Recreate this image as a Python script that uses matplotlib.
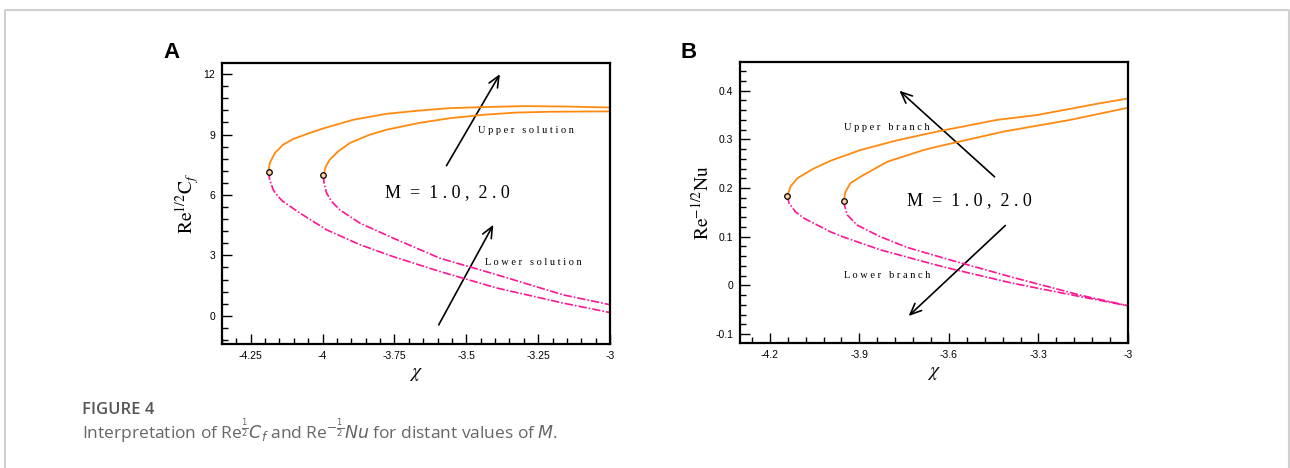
import matplotlib
matplotlib.use("Agg")
import matplotlib.pyplot as plt
from matplotlib.lines import Line2D
from matplotlib.patches import FancyArrowPatch
from matplotlib.ticker import FixedLocator, MultipleLocator

plt.rcParams["mathtext.fontset"] = "stix"

# panel A: skin friction, M = 1.0 (outer) and M = 2.0 (inner)
chi_a_up1 = [-4.188, -4.184, -4.166, -4.138, -4.103, -4.050, -3.998, -3.894, -3.777, -3.662, -3.557, -3.441, -3.302, -3.151, -3.0]
cf_up1 = [7.16, 7.58, 8.08, 8.49, 8.77, 9.05, 9.30, 9.73, 10.03, 10.19, 10.31, 10.36, 10.41, 10.39, 10.34]
chi_a_up2 = [-3.997, -3.989, -3.975, -3.946, -3.905, -3.836, -3.777, -3.662, -3.557, -3.441, -3.325, -3.209, -3.0]
cf_up2 = [6.97, 7.41, 7.75, 8.16, 8.58, 8.99, 9.24, 9.58, 9.81, 9.98, 10.09, 10.13, 10.15]
chi_a_lo1 = [-4.188, -4.184, -4.172, -4.155, -4.138, -4.079, -3.986, -3.870, -3.755, -3.592, -3.394, -3.163, -3.0]
cf_lo1 = [7.16, 6.75, 6.26, 5.92, 5.68, 5.10, 4.27, 3.53, 2.94, 2.20, 1.38, 0.63, 0.16]
chi_a_lo2 = [-3.997, -3.995, -3.986, -3.969, -3.940, -3.870, -3.755, -3.592, -3.394, -3.163, -3.0]
cf_lo2 = [6.97, 6.59, 6.09, 5.68, 5.26, 4.60, 3.86, 2.86, 2.04, 1.04, 0.55]
turn_a_chi = [-4.188, -3.997]
turn_a_cf = [7.16, 6.97]

# panel B: Nusselt number
chi_b_up1 = [-4.141, -4.131, -4.108, -4.081, -4.053, -3.997, -3.897, -3.774, -3.640, -3.439, -3.305, -3.105, -3.0]
nu_up1 = [0.184, 0.203, 0.220, 0.230, 0.240, 0.256, 0.278, 0.298, 0.316, 0.340, 0.350, 0.373, 0.384]
chi_b_up2 = [-3.952, -3.947, -3.930, -3.897, -3.807, -3.685, -3.640, -3.417, -3.194, -3.0]
nu_up2 = [0.173, 0.192, 0.210, 0.223, 0.254, 0.278, 0.285, 0.316, 0.340, 0.365]
chi_b_lo1 = [-4.141, -4.136, -4.114, -4.086, -3.997, -3.952, -3.830, -3.662, -3.606, -3.384, -3.161, -3.0]
nu_lo1 = [0.184, 0.169, 0.151, 0.138, 0.110, 0.099, 0.073, 0.045, 0.036, 0.004, -0.023, -0.042]
chi_b_lo2 = [-3.952, -3.950, -3.941, -3.908, -3.830, -3.740, -3.662, -3.606, -3.384, -3.161, -3.0]
nu_lo2 = [0.173, 0.165, 0.145, 0.124, 0.100, 0.078, 0.064, 0.054, 0.016, -0.020, -0.042]
turn_b_chi = [-4.141, -3.952]
turn_b_nu = [0.184, 0.173]

xt_a = [-4.25, -4.0, -3.75, -3.5, -3.25, -3.0]
xl_a = ["-4.25", "-4", "-3.75", "-3.5", "-3.25", "-3"]
yt_a = [0, 3, 6, 9, 12]
yl_a = ["0", "3", "6", "9", "12"]
xt_b = [-4.2, -3.9, -3.6, -3.3, -3.0]
xl_b = ["-4.2", "-3.9", "-3.6", "-3.3", "-3"]
yt_b = [-0.1, 0.0, 0.1, 0.2, 0.3, 0.4]
yl_b = ["-0.1", "0", "0.1", "0.2", "0.3", "0.4"]

orange = "#ff8a0f"
pink = "#ff1493"
dashdot = (0, (5, 1.2, 1, 1.2))
serif = ["Liberation Serif", "DejaVu Serif"]
sans = ["Liberation Sans", "DejaVu Sans"]

fig = plt.figure(figsize=(12.9, 4.68), dpi=100)
ax_a = fig.add_axes([222 / 1290, 124 / 468, 388 / 1290, 281 / 468])
ax_b = fig.add_axes([740 / 1290, 125 / 468, 388 / 1290, 281 / 468])


def style(ax, xt, xl, yt, yl, xminor, yminor):
    ax.xaxis.set_major_locator(FixedLocator(xt))
    ax.set_xticklabels(xl, family=sans)
    ax.yaxis.set_major_locator(FixedLocator(yt))
    ax.set_yticklabels(yl, family=sans)
    ax.xaxis.set_minor_locator(MultipleLocator(xminor))
    ax.yaxis.set_minor_locator(MultipleLocator(yminor))
    ax.tick_params(which="both", direction="in", top=False, right=False,
                   labelsize=7.5, width=1.0, pad=5)
    ax.tick_params(which="major", length=7)
    ax.tick_params(which="minor", length=4)
    for s in ax.spines.values():
        s.set_linewidth(1.6)


def arrow(ax, tail, head):
    ax.add_patch(FancyArrowPatch(tail, head, arrowstyle="->,head_length=8,head_width=3.5",
                                 color="black", lw=1.2, shrinkA=0, shrinkB=0))


# panel A
ax_a.plot(chi_a_up1, cf_up1, color=orange, lw=1.3)
ax_a.plot(chi_a_up2, cf_up2, color=orange, lw=1.3)
ax_a.plot(chi_a_lo1, cf_lo1, color=pink, lw=1.2, linestyle=dashdot)
ax_a.plot(chi_a_lo2, cf_lo2, color=pink, lw=1.2, linestyle=dashdot)
ax_a.plot(turn_a_chi, turn_a_cf, "o", ms=4, mfc="#ffd0a0", mec="black", mew=0.9)
ax_a.set_xlim(-4.35, -3.0)
ax_a.set_ylim(-1.4, 12.55)
style(ax_a, xt_a, xl_a, yt_a, yl_a, 0.05, 0.6)
arrow(ax_a, (-3.569, 7.45), (-3.383, 12.0))
arrow(ax_a, (-3.596, -0.45), (-3.406, 4.52))
ax_a.text(-3.46, 9.2, "U p p e r   s o l u t i o n", family=serif, fontsize=7.5, va="center")
ax_a.text(-3.435, 2.65, "L o w e r   s o l u t i o n", family=serif, fontsize=7.5, va="center")
ax_a.text(-3.783, 6.12, "M  =  1 . 0 ,  2 . 0", family=serif, fontsize=13, va="center")
ax_a.set_xlabel(r"$\chi$", fontsize=14, labelpad=2)
ax_a.set_ylabel(r"$\mathrm{Re}^{1/2}\mathrm{C}_f$", fontsize=14, labelpad=2)

# panel B
ax_b.plot(chi_b_up1, nu_up1, color=orange, lw=1.3)
ax_b.plot(chi_b_up2, nu_up2, color=orange, lw=1.3)
ax_b.plot(chi_b_lo1, nu_lo1, color=pink, lw=1.2, linestyle=dashdot)
ax_b.plot(chi_b_lo2, nu_lo2, color=pink, lw=1.2, linestyle=dashdot)
ax_b.plot(turn_b_chi, turn_b_nu, "o", ms=4, mfc="#ffd0a0", mec="black", mew=0.9)
ax_b.set_xlim(-4.3, -3.0)
ax_b.set_ylim(-0.1185, 0.459)
style(ax_b, xt_b, xl_b, yt_b, yl_b, 0.06, 0.02)
arrow(ax_b, (-3.447, 0.223), (-3.766, 0.400))
arrow(ax_b, (-3.411, 0.123), (-3.735, -0.063))
ax_b.text(-3.95, 0.325, "U p p e r   b r a n c h", family=serif, fontsize=7.5, va="center")
ax_b.text(-3.952, 0.021, "L o w e r   b r a n c h", family=serif, fontsize=7.5, va="center")
ax_b.text(-3.739, 0.175, "M  =  1 . 0 ,  2 . 0", family=serif, fontsize=13, va="center")
ax_b.set_xlabel(r"$\chi$", fontsize=14, labelpad=2)
ax_b.set_ylabel(r"$\mathrm{Re}^{-1/2}\mathrm{Nu}$", fontsize=14, labelpad=2)

# panel letters
fig.text(163 / 1290, 1 - 52 / 468, "A", family=sans, fontsize=16, fontweight="bold", va="center")
fig.text(680 / 1290, 1 - 52 / 468, "B", family=sans, fontsize=16, fontweight="bold", va="center")

# caption
fig.text(82 / 1290, 1 - 410 / 468, "FIGURE 4", family=["Open Sans", "DejaVu Sans"],
         fontsize=12, fontweight="semibold", color="#555555", va="center")
fig.text(82 / 1290, 1 - 431 / 468,
         r"Interpretation of Re$^{\frac{1}{2}}C_f$ and Re$^{-\frac{1}{2}}Nu$ for distant values of $M$.",
         family=["Open Sans", "DejaVu Sans"], math_fontfamily="dejavusans",
         fontsize=12.5, color="#666666", va="center")

# outer frame
fig.add_artist(Line2D([4.5 / 1290, 4.5 / 1290, 1288.5 / 1290, 1288.5 / 1290],
                      [0, 1 - 10 / 468, 1 - 10 / 468, 0], color="#d0d0d0", lw=1.5))

fig.savefig("out.png", dpi=100)
